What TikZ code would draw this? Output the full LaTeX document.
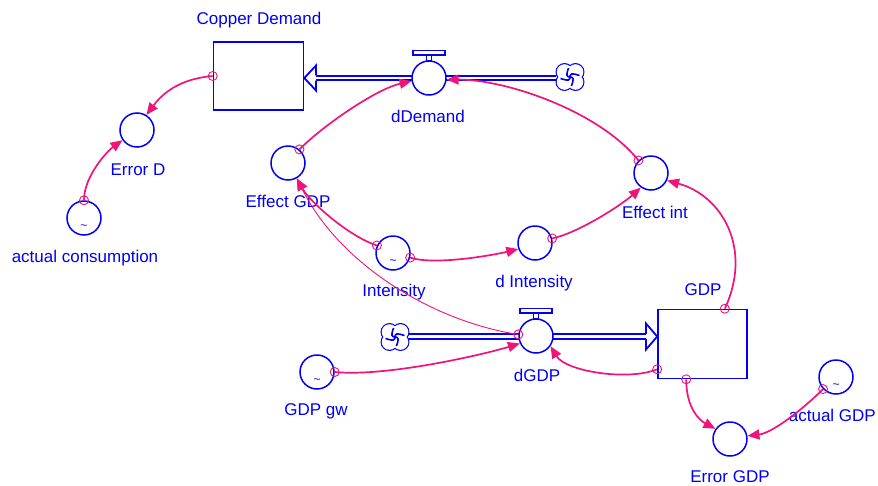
\documentclass[tikz,border=0pt]{standalone}
\usepackage{fontspec}
\setmainfont{Liberation Sans}
\usetikzlibrary{arrows.meta,calc}
\definecolor{sdblue}{RGB}{0,0,245}
\definecolor{sdpink}{RGB}{240,20,120}
\tikzset{
  aux/.style={circle, draw=sdblue, fill=white, line width=1.5pt, minimum size=34pt, inner sep=0pt},
  stockbox/.style={draw=sdblue, fill=white, line width=1.6pt, minimum width=89pt, minimum height=69pt, inner sep=0pt},
  lbl/.style={text=sdblue, font=\fontsize{17}{18}\selectfont, inner sep=0pt},
  tildemark/.style={text=sdblue, font=\fontsize{12}{12}\selectfont, inner sep=0pt},
  link/.style={draw=sdpink, line width=1.7pt, -{Triangle[length=12pt,width=10pt]}},
  thinlink/.style={draw=sdpink, line width=0.9pt, -{Triangle[length=12pt,width=10pt]}},
  orig/.style={draw=sdpink, line width=0.9pt},
  pipe/.style={draw=sdblue, line width=2pt, double=white, double distance=2.6pt},
  cloudpic/.pic={
    \foreach \a/\b in {-5.5/-5,5.5/-5,-5.5/5,5.5/5} \draw[sdblue,line width=2.3pt] (\a,\b) circle (7.8);
    \foreach \a/\b in {-5.5/-5,5.5/-5,-5.5/5,5.5/5} \fill[white] (\a,\b) circle (7.8);
    \fill[white] (-5.5,-5) rectangle (5.5,5);
    \draw[sdblue,line width=1.6pt] (0.5,0.5) .. controls (-4,-1) .. (-1.5,-9);
    \draw[sdblue,line width=1.6pt] (-0.5,0.5) .. controls (1,-4) .. (9.5,-1.5);
    \draw[sdblue,line width=1.6pt] (-0.5,-0.5) .. controls (4,1) .. (1.5,9);
    \draw[sdblue,line width=1.6pt] (0.5,-0.5) .. controls (-1,4) .. (-9.5,1.5);
  }
}
\begin{document}
\begin{tikzpicture}[x=1pt,y=-1pt]
\useasboundingbox (0,0) rectangle (878,485);
\fill[white] (0,0) rectangle (878,485);

% stocks
\node[stockbox, minimum width=90pt, minimum height=68pt] (cd) at (258.5,76) {};
\node[stockbox] (gdp) at (702.5,344) {};
\node[lbl] (cdl) at (259,20) {Copper Demand};
\node[lbl] (gdpl) at (703,290) {GDP};

% clouds
\pic (cl1) at (570,77) {cloudpic};
\pic (cl2) at (395,337) {cloudpic};
\coordinate (cl1e) at (556,77);
\coordinate (cl2e) at (409,337);

% flow dDemand
\coordinate (a1tip) at ($(cd.east)+(0,2)$);
\draw[pipe] (cl1e |- 0,78) -- (316,78);
\fill[white] (a1tip) -- (316,65.5) -- (316,90.5) -- cycle;
\draw[sdblue, line width=1.8pt, line join=miter] (316,75.3) -- (316,65.5) -- (a1tip) -- (316,90.5) -- (316,80.7);

% flow dGDP
\coordinate (a2tip) at ($(gdp.west)+(0,-7.5)$);
\draw[pipe] (cl2e |- 0,336.5) -- (646,336.5);
\fill[white] (a2tip) -- (646,323.5) -- (646,349.5) -- cycle;
\draw[sdblue, line width=1.8pt, line join=miter] (646,333.8) -- (646,323.5) -- (a2tip) -- (646,349.5) -- (646,339.2);

% valves
\node[aux] (ddem) at (429,78) {};
\draw[sdblue, line width=1.2pt, fill=white] (426.5,61) rectangle (431.5,55);
\draw[sdblue, line width=1.2pt, fill=white] (413,55) rectangle (445,50.5);
\node[lbl] (ddeml) at (428,116) {dDemand};

\node[aux] (dgdp) at (536,336) {};
\draw[sdblue, line width=1.2pt, fill=white] (533.5,319) rectangle (538.5,313);
\draw[sdblue, line width=1.2pt, fill=white] (520,313) rectangle (552,308.5);
\node[lbl] (dgdpl) at (537,375) {dGDP};

% converters
\node[aux] (errD) at (137,130) {};
\node[lbl] (errDl) at (138,170) {Error D};
\node[aux] (actcons) at (84,218) {};
\node[tildemark] (t1) at (84,227) {\textasciitilde};
\node[lbl] (actconsl) at (85,258) {actual consumption};
\node[aux] (effGDP) at (288,163) {};
\node[lbl] (effGDPl) at (288,201) {Effect GDP};
\node[aux] (intens) at (393,253) {};
\node[tildemark] (t2) at (393,262) {\textasciitilde};
\node[lbl] (intensl) at (394,292) {Intensity};
\node[aux] (dint) at (535,243) {};
\node[lbl] (dintl) at (534,283) {d Intensity};
\node[aux] (effint) at (651,173) {};
\node[lbl] (effintl) at (655,212) {Effect int};
\node[aux] (gdpgw) at (317,372) {};
\node[tildemark] (t3) at (317,381) {\textasciitilde};
\node[lbl] (gdpgwl) at (316,411) {GDP gw};
\node[aux] (errGDP) at (730,439) {};
\node[lbl] (errGDPl) at (730,477) {Error GDP};
\node[aux] (actGDP) at (836,377) {};
\node[tildemark] (t4) at (836,386) {\textasciitilde};
\node[lbl, anchor=east] (actGDPl) at (876,415) {actual GDP};

% connector start points on stocks
\coordinate (s1) at (cd.west);
\coordinate (s8) at ($(gdp.north east)+(-23,0)$);
\coordinate (s11) at ($(gdp.south west)+(0,-10)$);
\coordinate (s12) at ($(gdp.south west)+(29,0)$);

% connectors
\draw[link] (s1) .. controls +(-35,3) and +(15,-20) .. (errD.58);
\draw[link] (actcons.north) .. controls +(0,-25) and +(-14,10) .. (errD.215);
\draw[link] (effGDP.50) .. controls +(25,-25) and +(-35,8) .. (ddem.190);
\draw[link] (effint.135) .. controls +(-39,-49) and +(60,0) .. (ddem.355);
\draw[link] (intens.155) .. controls +(-30,-10) and +(12,22) .. (effGDP.-60);
\draw[link] (intens.-15) .. controls +(25,8) and +(-25,6) .. (dint.200);
\draw[link] (dint.15) .. controls +(25,-5) and +(-20,18) .. (effint.235);
\draw[link] (s8) .. controls +(28,-60) and +(55,15) .. (effint.-25);
\draw[thinlink] (dgdp.175) .. controls +(-80,-12) and +(45,90) .. (effGDP.-60);
\draw[link] (gdpgw.0) .. controls +(50,5) and +(-40,12) .. (dgdp.205);
\draw[link] (s11) .. controls +(-30,12) and +(15,25) .. (dgdp.-35);
\draw[link] (s12) .. controls +(0,30) and +(-15,-8) .. (errGDP.145);
\draw[link] (actGDP.223) .. controls +(-20,20) and +(25,-3) .. (errGDP.10);

% origin markers
\foreach \p in {s1, actcons.north, effGDP.50, effint.135, intens.155, intens.-15, dint.15, s8, dgdp.175, gdpgw.0, s11, s12, actGDP.223}
  \draw[orig] (\p) circle (4.5);
\end{tikzpicture}
\end{document}
